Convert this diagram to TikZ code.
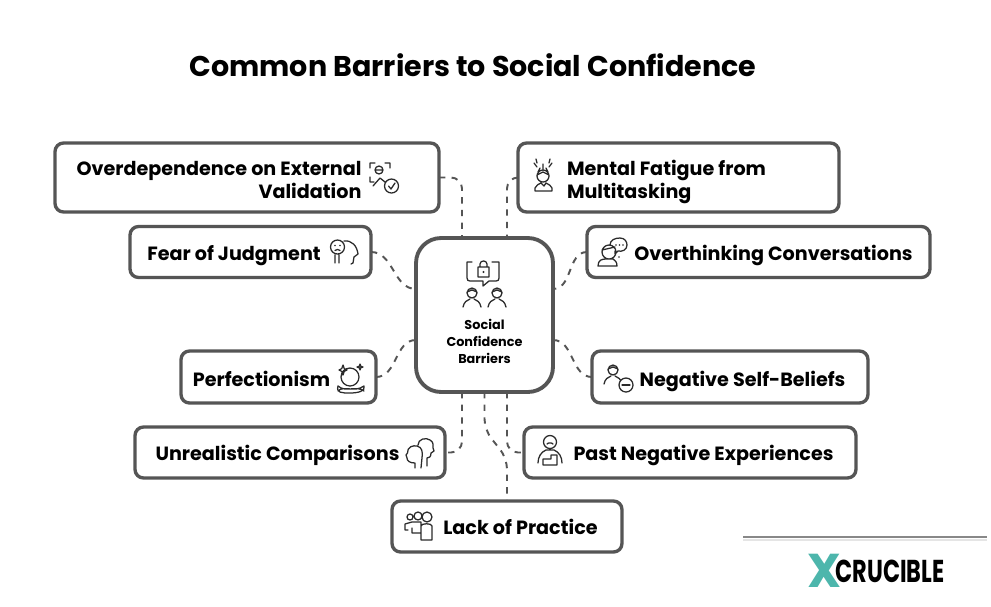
\documentclass[tikz,border=0pt]{standalone}
\usepackage{fontspec}
\setmainfont{Poppins}
\usetikzlibrary{positioning,calc}
\definecolor{boxgray}{HTML}{555555}
\definecolor{icongray}{HTML}{2B2B2B}
\definecolor{logoteal}{HTML}{4DB6AC}
\tikzset{
  barrierbox/.style={draw=boxgray, line width=1.9pt, rounded corners=0.17cm, fill=white,
    inner sep=0pt, outer sep=0pt, font=\fontsize{10.9}{13}\selectfont\bfseries, text=black},
  onelinebox/.style={barrierbox, text height=#1, text depth=0pt},
  onelinebox/.default=0.32cm,
  centerbox/.style={barrierbox, line width=2.2pt, rounded corners=0.5cm,
    font=\fontsize{7.3}{9.6}\selectfont\bfseries},
  barrierlink/.style={draw=boxgray, line width=1.1pt, dash pattern=on 3.6pt off 3.6pt, rounded corners=0.22cm},
  icon/.style={draw=icongray, line width=0.72pt, line cap=round, line join=round},
  personicon/.pic={
    \draw[icon]
    (0,-6) circle[radius=5]
    (-5,-7) -- (0,-9) -- (5,-7)
    (-9,8) .. controls (-8,3) and (-5,1) .. (-2,0)
    (9,8) .. controls (8,3) and (5,1) .. (2,0);
  }
}
\begin{document}
\begin{tikzpicture}[x=0.02cm, y=-0.02cm]
  \useasboundingbox (0,0) rectangle (991,606);
  \fill[white] (0,0) rectangle (991,606);

  \node[font=\fontsize{16.25}{18}\selectfont\bfseries] (title) at (473,65) {Common Barriers to Social Confidence};

  \node[centerbox, minimum width=2.74cm, minimum height=3.08cm, align=center] (barriers) at (484.5,315)
    {\rule{0pt}{0.93cm}\\Social\\Confidence\\Barriers};

  \node[barrierbox, minimum width=7.68cm, minimum height=1.38cm, align=right] (external) at (247,177.5)
    {\rule{0pt}{0.38cm}Overdependence on External\hspace*{1.12cm}\\Validation\hspace*{1.12cm}};
  \node[onelinebox, minimum width=4.82cm, minimum height=1.02cm] (judgment) at (250.5,252)
    {Fear of Judgment\hspace*{0.66cm}};
  \node[onelinebox=0.36cm, minimum width=3.9cm, minimum height=1.04cm] (perfection) at (278.5,377)
    {Perfectionism\hspace*{0.68cm}};
  \node[onelinebox, minimum width=6.2cm, minimum height=1.02cm] (comparison) at (290,452.5)
    {Unrealistic Comparisons\hspace*{0.5cm}};
  \node[barrierbox, minimum width=6.42cm, minimum height=1.38cm, align=left] (fatigue) at (678.5,177.5)
    {\rule{0pt}{0.47cm}Mental Fatigue from\hspace*{0.48cm}\\Multitasking};
  \node[onelinebox, minimum width=6.86cm, minimum height=1.02cm] (overthink) at (758.5,252)
    {\hspace*{0.6cm}Overthinking Conversations};
  \node[onelinebox=0.36cm, minimum width=5.52cm, minimum height=1.04cm] (selfbelief) at (730,377)
    {\hspace*{0.5cm}Negative Self-Beliefs};
  \node[onelinebox, minimum width=6.64cm, minimum height=1.02cm] (past) at (690,452.5)
    {\hspace*{0.54cm}Past Negative Experiences};
  \node[onelinebox, minimum width=4.6cm, minimum height=1.02cm] (practice) at (507,526.5)
    {\hspace*{0.54cm}Lack of Practice};

  \coordinate (topleft) at ($(barriers.north)+(-22.5,0)$);
  \coordinate (topright) at ($(barriers.north)+(22.5,0)$);
  \coordinate (leftup) at ($(barriers.west)+(0,-26)$);
  \coordinate (leftdown) at ($(barriers.west)+(0,25)$);
  \coordinate (rightup) at ($(barriers.east)+(0,-26)$);
  \coordinate (rightdown) at ($(barriers.east)+(0,25)$);
  \coordinate (bottomleft) at ($(barriers.south)+(-22.5,0)$);
  \coordinate (bottomright) at ($(barriers.south)+(22.5,0)$);

  \draw[barrierlink] (external.east) -| (topleft);
  \draw[barrierlink] (fatigue.west) -| (topright);
  \draw[barrierlink] (judgment.east) to[out=0, in=180] (leftup);
  \draw[barrierlink] (perfection.east) to[out=0, in=180] (leftdown);
  \draw[barrierlink] (overthink.west) to[out=180, in=0] (rightup);
  \draw[barrierlink] (selfbelief.west) to[out=180, in=0] (rightdown);
  \draw[barrierlink] (bottomleft) |- (comparison.east);
  \draw[barrierlink] (bottomright) |- (past.west);
  \draw[barrierlink] (barriers.south) -- ++(0,38) -- ++(22.5,28) -- (practice.north);

  \begin{scope}[shift={(0,0)}]
    \draw[icon]
    (467,266) -- (467,262) -- (472,262)
    (474,281) -- (470,281) .. controls (468,281) and (467,280) .. (467,278) -- (467,266)
    (492,262) -- (499,262) -- (499,278) .. controls (499,280) and (498,281) .. (496,281) -- (489,281) -- (483,286) -- (483,281) -- (474,281)
    (478,267) rectangle (489,277)
    (480,267) -- (480,264) .. controls (480,260) and (487,260) .. (487,264) -- (487,267);
    \fill[icongray] (483.5,272) circle[radius=1.2];
    \pic at (472,299) {personicon};
    \pic at (497,299) {personicon};
  \end{scope}

  \draw[icon]
  (370,168) -- (370,163) -- (375,163)
  (385,163) -- (390,163) -- (390,168)
  (370,177) -- (370,182) -- (374,182)
  (379,170) circle[radius=4] (376,170) -- (382,170)
  (373,186) -- (380,178) -- (385,182)
  (391.5,186) circle[radius=7]
  (388.5,186) -- (391,189) -- (395,183);

  \draw[icon]
  (337.5,247) circle[radius=7]
  (335,250.5) .. controls (336,249) and (339,249) .. (340,250.5)
  (339,255) -- (339,263) (335,255) -- (335,263)
  (344,241) .. controls (352,240) and (357,246) .. (358,254) -- (354,257) -- (353,263) -- (351,264);
  \fill[icongray] (335,245.5) circle[radius=.8] (340,245.5) circle[radius=.8];

  \draw[icon]
  (350,377) circle[radius=9]
  (338,391) .. controls (344,385) and (354,393) .. (364,386) .. controls (366,391) and (358,393) .. (350,393) .. controls (342,393) and (336,393) .. (338,386) .. controls (346,393) and (356,385) .. (364,391)
  (343,365) .. controls (343,368) and (345,370) .. (347,370) .. controls (345,370) and (343,372) .. (343,375) .. controls (343,372) and (341,370) .. (339,370) .. controls (341,370) and (343,368) .. (343,365)
  (360,364) .. controls (360,366) and (361,367) .. (363,367) .. controls (361,367) and (360,368) .. (360,370) .. controls (360,368) and (359,367) .. (357,367) .. controls (359,367) and (360,366) .. (360,364);

  \draw[icon]
  (415,468) -- (415,463) .. controls (410,463) and (407,461) .. (407,458) -- (406,455) -- (407.5,453) .. controls (407,447) and (413,445) .. (417,446) .. controls (422,447) and (423,452) .. (422,458) -- (421,468)
  (418,445) .. controls (418,439) and (426,437) .. (430,440) .. controls (434,442) and (433,446) .. (433,448) -- (434,451) -- (431,453) .. controls (431,457) and (429,458) .. (427,458) -- (427,466);

  \draw[icon]
  (543,176) circle[radius=6] (537,175) -- (543,172) -- (549,175)
  (540,168) -- (538,172) (546,168) -- (548,172)
  (535,191) -- (535,188) .. controls (536,185) and (539,184) .. (541,183) -- (544,186) -- (546,183) .. controls (549,184) and (551,186) .. (552,188) -- (552,191) -- cycle
  (543,164) -- (543,169)
  (534,163) -- (537,167) (552,163) -- (549,167)
  (536,159) -- (537,163) (550,159) -- (549,163);

  \draw[icon]
  (609,252) circle[radius=7] (602,250) -- (615,247)
  (598,266) .. controls (598,260) and (602,259) .. (606,259) -- (613,259) .. controls (615,260) and (617,262) .. (617,266) -- cycle
  (610,245) .. controls (610,240) and (615,238) .. (620,238) .. controls (625,238) and (627,242) .. (627,245) .. controls (627,250) and (622,252) .. (618,251) -- (615,254) -- (615,251);
  \fill[icongray] (616,245) circle[radius=.8] (619.5,245) circle[radius=.8] (623,245) circle[radius=.8] (619,257) circle[radius=.8];

  \pic at (613,376) {personicon};
  \draw[icon, fill=white]
  (626,385) circle[radius=7];
  \draw[icon] (622,385) -- (630,385);

  \draw[icon]
  (550,442) circle[radius=6.5] (547,444) .. controls (548,442.5) and (552,442.5) .. (553,444)
  (538,463) .. controls (538,457) and (541,452) .. (546,450) -- (554,450) .. controls (559,452) and (562,457) .. (562,463)
  (543,465) -- (543,459) -- (551,459) -- (551,455) -- (557,455) -- (557,465) -- cycle;

  \draw[icon]
  (410,517) circle[radius=3] (418,516) circle[radius=4] (427,517) circle[radius=5]
  (405,530) -- (405,524) -- (412,522) -- (421,522) -- (421,533) -- (412,533) -- (412,528)
  (408,530) -- (405,530)
  (421,540) -- (421,526) .. controls (421,523) and (432,523) .. (432,526) -- (432,540) -- cycle;

  \draw[boxgray!70, line width=1pt] (743,537) -- (987,537);
  \draw[black!10, line width=1.5pt] (743,540) -- (987,540);

  \node[text=logoteal, font=\fontsize{27}{27}\selectfont\bfseries, inner sep=0pt] (logox) at (824,571) {X};
  \node[font=\fontsize{18}{18}\selectfont\bfseries, inner sep=0pt, right=-0.12cm of logox] (logoname) {\scalebox{0.71}[1]{CRUCIBLE}};
\end{tikzpicture}
\end{document}
